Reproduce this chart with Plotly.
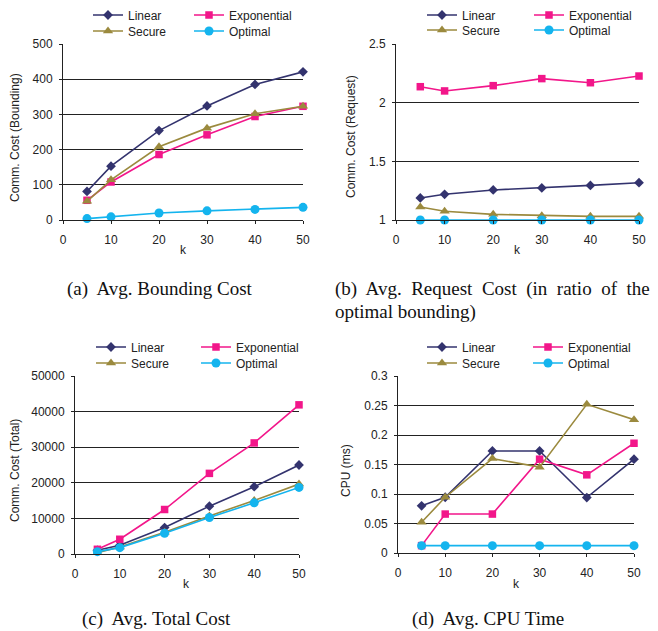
import plotly.graph_objects as go

# page body has an 8px default margin; reference pixel coords are converted below
PAGE_OFF = 8
W, H = 658 - PAGE_OFF, 631 - PAGE_OFF


def fx(px):
    return (px - PAGE_OFF) / W


def fy(py):
    return 1 - (py - PAGE_OFF) / H


k = [5, 10, 20, 30, 40, 50]
x_ticks = [0, 10, 20, 30, 40, 50]
series_names = ["Linear", "Exponential", "Secure", "Optimal"]

bounding_linear = [81, 153, 254, 324, 385, 421]
bounding_exponential = [56, 108, 186, 242, 294, 323]
bounding_secure = [53, 114, 208, 261, 302, 323]
bounding_optimal = [4, 9, 20, 26, 30, 36]

request_linear = [1.188, 1.219, 1.256, 1.273, 1.295, 1.318]
request_exponential = [2.136, 2.100, 2.145, 2.205, 2.170, 2.227]
request_secure = [1.111, 1.074, 1.048, 1.037, 1.031, 1.031]
request_optimal = [1.0, 1.0, 1.0, 1.0, 1.0, 1.0]

total_linear = [1030, 2440, 7420, 13440, 18900, 25000]
total_exponential = [1320, 4140, 12500, 22650, 31200, 41900]
total_secure = [380, 1970, 6100, 10700, 15040, 19640]
total_optimal = [660, 1790, 5830, 10240, 14380, 18700]

cpu_linear = [0.080, 0.0945, 0.173, 0.173, 0.094, 0.159]
cpu_exponential = [0.0125, 0.066, 0.066, 0.159, 0.1325, 0.186]
cpu_secure = [0.052, 0.0945, 0.160, 0.1455, 0.252, 0.226]
cpu_optimal = [0.0125, 0.0125, 0.0125, 0.0125, 0.0125, 0.0125]

y_ticks_bounding = [0, 100, 200, 300, 400, 500]
y_ticks_request = [1, 1.5, 2, 2.5]
y_ticks_total = [0, 10000, 20000, 30000, 40000, 50000]
y_ticks_cpu = [0, 0.05, 0.1, 0.15, 0.2, 0.25, 0.3]
y_ticktext_bounding = ["0", "100", "200", "300", "400", "500"]
y_ticktext_request = ["1", "1.5", "2", "2.5"]
y_ticktext_total = ["0", "10000", "20000", "30000", "40000", "50000"]
y_ticktext_cpu = ["0", "0.05", "0.1", "0.15", "0.2", "0.25", "0.3"]

titles_y = ["Comm. Cost (Bounding)", "Comm. Cost (Request)", "Comm. Cost (Total)", "CPU (ms)"]
S2 = "\u00a0 "
captions = ["(a)\u00a0 Avg. Bounding Cost",
            S2.join(["(b)", "Avg.", "Request", "Cost", "(in", "ratio", "of", "the"]),
            "optimal bounding)",
            "(c)\u00a0 Avg. Total Cost",
            "(d)\u00a0 Avg. CPU Time"]

colors = ["#33336e", "#f2168a", "#9b8a3e", "#14b4ee"]
symbols = ["diamond", "square", "triangle-up", "circle"]
msizes = [7.5, 7.5, 9, 9]

panels = [
    dict(data=[bounding_linear, bounding_exponential, bounding_secure, bounding_optimal],
         px=(63, 303), py=(44, 220), yr=[0, 500], yt=y_ticks_bounding, ytt=y_ticktext_bounding,
         leg_x=(108, 209), leg_y=(15, 31), ytitle=(15, 138), xtitle=(183, 250)),
    dict(data=[request_linear, request_exponential, request_secure, request_optimal],
         px=(396, 639), py=(44, 220), yr=[1, 2.5], yt=y_ticks_request, ytt=y_ticktext_request,
         leg_x=(442, 549), leg_y=(15, 30), ytitle=(351, 137), xtitle=(517, 250)),
    dict(data=[total_linear, total_exponential, total_secure, total_optimal],
         px=(75, 299), py=(376, 554), yr=[0, 50000], yt=y_ticks_total, ytt=y_ticktext_total,
         leg_x=(111, 216), leg_y=(347, 363), ytitle=(15, 471), xtitle=(186, 584)),
    dict(data=[cpu_linear, cpu_exponential, cpu_secure, cpu_optimal],
         px=(398, 634), py=(376, 553), yr=[0, 0.3], yt=y_ticks_cpu, ytt=y_ticktext_cpu,
         leg_x=(442, 548), leg_y=(347, 363), ytitle=(346, 471), xtitle=(516, 584)),
]

FONT = "Liberation Sans, Arial, sans-serif"
SERIF = "Liberation Serif, Times New Roman, serif"

fig = go.Figure()
layout = dict(width=W, height=H, margin=dict(l=0, r=0, t=0, b=0, pad=0, autoexpand=False),
              paper_bgcolor="white", plot_bgcolor="white",
              font=dict(family=FONT, size=12, color="#222222"),
              annotations=[])

leg_idx = 0
LEG_OFF = 20
for p_i, p in enumerate(panels):
    ax = "" if p_i == 0 else str(p_i + 1)
    for s_i in range(4):
        leg_idx += 1
        lname = "legend" if leg_idx == 1 else "legend%d" % leg_idx
        col, row = s_i % 2, s_i // 2
        layout[lname] = dict(
            orientation="h", x=fx(p["leg_x"][col] - LEG_OFF), xanchor="left",
            y=fy(p["leg_y"][row]), yanchor="middle",
            bgcolor="rgba(0,0,0,0)", font=dict(size=12, color="#222222", family=FONT),
            itemclick=False, itemdoubleclick=False)
        fig.add_trace(go.Scatter(
            x=k, y=p["data"][s_i], name=series_names[s_i], mode="lines+markers",
            line=dict(color=colors[s_i], width=1.6),
            marker=dict(symbol=symbols[s_i], size=msizes[s_i], color=colors[s_i]),
            xaxis="x" + ax, yaxis="y" + ax, cliponaxis=False,
            legend=lname, showlegend=True))
    layout["xaxis" + ax] = dict(
        domain=[fx(p["px"][0]), fx(p["px"][1])], range=[0, 50], tickvals=x_ticks,
        anchor="y" + ax, showgrid=False, zeroline=False, showline=True,
        linecolor="#222222", linewidth=1, ticks="outside", ticklen=3, tickcolor="#222222",
        ticklabelstandoff=6, fixedrange=True, automargin=False)
    layout["yaxis" + ax] = dict(
        domain=[fy(p["py"][1]), fy(p["py"][0])], range=p["yr"], tickvals=p["yt"],
        ticktext=p["ytt"],
        anchor="x" + ax, showgrid=True, gridcolor="#222222", gridwidth=1, zeroline=False,
        showline=True, linecolor="#222222", linewidth=1, ticks="outside", ticklen=3,
        tickcolor="#222222", ticklabelstandoff=4, fixedrange=True, automargin=False)
    layout["annotations"].append(dict(
        text=titles_y[p_i], x=fx(p["ytitle"][0]), y=fy(p["ytitle"][1]),
        xref="paper", yref="paper", xanchor="center", yanchor="middle",
        textangle=-90, showarrow=False, font=dict(size=12, family=FONT, color="#222222")))
    layout["annotations"].append(dict(
        text="k", x=fx(p["xtitle"][0]), y=fy(p["xtitle"][1]),
        xref="paper", yref="paper", xanchor="center", yanchor="middle",
        showarrow=False, font=dict(size=12, family=FONT, color="#222222")))

cap_pos = [(65, 289), (333, 289), (333, 312), (80, 619), (410, 619)]
for c_i, c in enumerate(captions):
    layout["annotations"].append(dict(
        text=c, x=fx(cap_pos[c_i][0]), y=fy(cap_pos[c_i][1]),
        xref="paper", yref="paper", xanchor="left", yanchor="middle",
        showarrow=False, font=dict(size=19, family=SERIF, color="#111111")))

fig.update_layout(**layout)
fig.write_html("out.html", config=dict(displayModeBar=False))
